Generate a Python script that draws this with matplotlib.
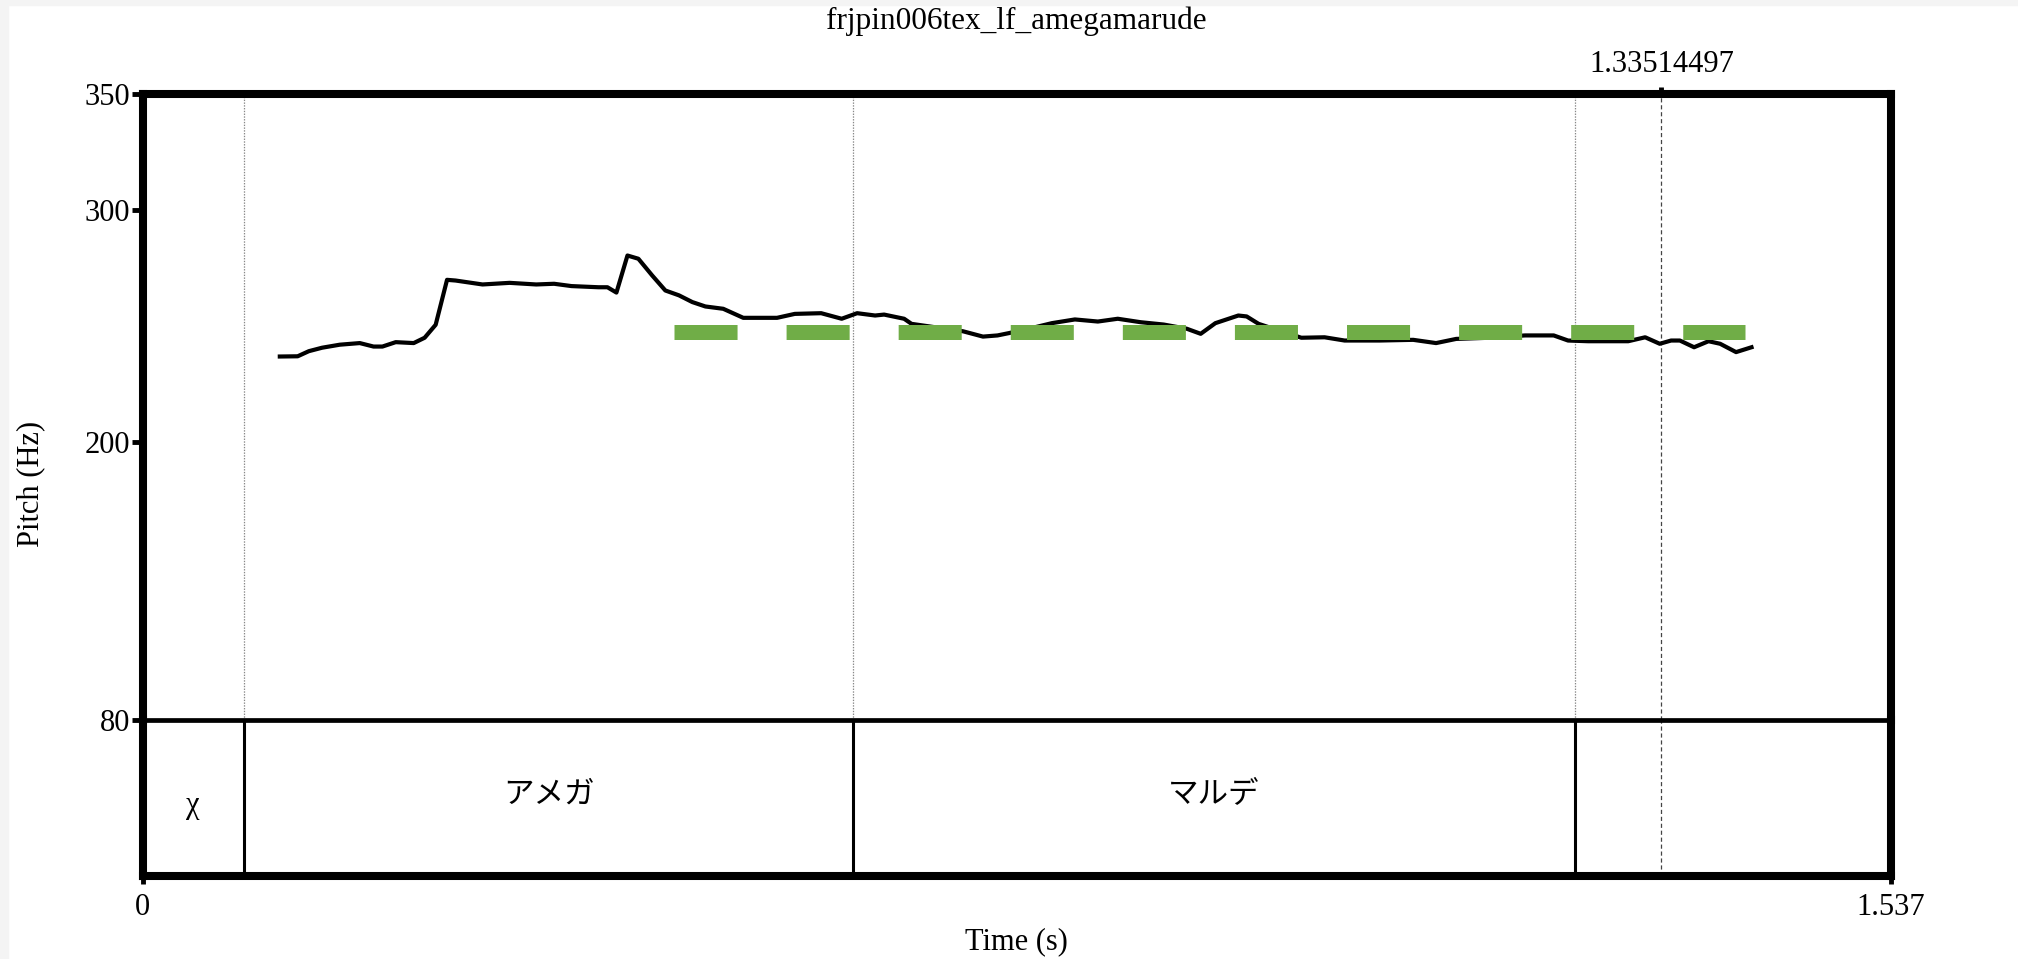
import numpy as np
import matplotlib as mpl
import matplotlib.pyplot as plt
from matplotlib.patches import Rectangle

mpl.rcParams['font.family'] = ['Liberation Serif', 'DejaVu Serif']
mpl.rcParams['lines.scale_dashes'] = False

# 数据
title = 'frjpin006tex_lf_amegamarude'
t_max = 1.537
cursor = 1.33514497
y_ticks = [80, 200, 300, 350]

pitch_t = [0.1207, 0.1364, 0.1462, 0.1579, 0.1734, 0.1910, 0.2031, 0.2109, 0.2226, 0.2384,
           0.2480, 0.2577, 0.2677, 0.2752, 0.2989, 0.3227, 0.3461, 0.3618, 0.3771, 0.4008,
           0.4087, 0.4166, 0.4263, 0.4359, 0.4480, 0.4596, 0.4716, 0.4833, 0.4948, 0.5105,
           0.5281, 0.5578, 0.5734, 0.5966, 0.6146, 0.6282, 0.6440, 0.6519, 0.6695, 0.6760,
           0.7212, 0.7388, 0.7516, 0.7616, 0.7800, 0.7994, 0.8196, 0.8398, 0.8573, 0.8775,
           0.8977, 0.9179, 0.9302, 0.9431, 0.9633, 0.9706, 0.9811, 0.9996, 1.0187, 1.0391,
           1.0567, 1.0873, 1.1170, 1.1371, 1.1548, 1.1839, 1.2153, 1.2405, 1.2531, 1.2708,
           1.3060, 1.3209, 1.3337, 1.3437, 1.3514, 1.3639, 1.3766, 1.3868, 1.4008, 1.4144]
pitch_hz = [236.9, 237.0, 239.2, 240.7, 242.0, 242.7, 241.2, 241.2, 243.1, 242.7,
            245.0, 250.6, 270.0, 269.7, 268.0, 268.7, 268.0, 268.3, 267.3, 266.8,
            266.8, 264.5, 280.5, 279.1, 271.9, 265.4, 263.3, 260.4, 258.5, 257.5,
            253.6, 253.6, 255.3, 255.6, 253.2, 255.6, 254.6, 255.0, 253.2, 251.0,
            247.8, 245.5, 246.0, 247.0, 249.0, 251.3, 252.9, 252.0, 253.2, 251.7,
            250.7, 248.9, 246.7, 251.3, 254.6, 254.2, 251.0, 248.0, 245.0, 245.2,
            243.8, 243.8, 244.1, 242.7, 244.5, 245.0, 246.0, 246.0, 243.8, 243.5,
            243.5, 245.2, 242.4, 243.8, 243.8, 240.9, 243.5, 242.4, 238.8, 240.9]

# 目标线
target_t = [0.467, 1.409]
target_hz = [247.5, 247.5]

# 标注层
boundaries = [0.0892, 0.6246, 1.2592]
labels = ['χ', 'アメガ', 'マルデ', '']
label_t = [0.0446, 0.3569, 0.9419, 1.3981]
label_y = [0.45, 0.52, 0.52, 0.52]

W, H = 2018, 959
fig = plt.figure(figsize=(W / 100, H / 100), dpi=100)
fig.patches.append(Rectangle((0, 1 - 5 / H), 1, 5 / H, transform=fig.transFigure,
                             color='#f4f4f4', zorder=-10))
fig.patches.append(Rectangle((0, 0), 8 / W, 1, transform=fig.transFigure,
                             color='#f4f4f4', zorder=-10))

left, right = 142.5 / W, 1891 / W
ax2 = fig.add_axes([left, 1 - 876 / H, right - left, (876 - 720) / H])
ax = fig.add_axes([left, 1 - 720 / H, right - left, (720 - 94.5) / H])
ax.set_zorder(2)
ax.patch.set_facecolor('none')

frame_lw = 5.8
for a in (ax, ax2):
    for s in a.spines.values():
        s.set_linewidth(frame_lw)
        s.set_capstyle('projecting')
ax.spines['bottom'].set_linewidth(3.4)
ax2.spines['top'].set_visible(False)

# 音高曲线
ax.plot(pitch_t, pitch_hz, color='black', lw=3.0, solid_joinstyle='round', zorder=3)
ax.plot(target_t, target_hz, color='#70ad47', lw=10.8, dashes=(45.4, 35.3),
        dash_capstyle='butt', zorder=4)

for b in boundaries:
    ax.axvline(b, color='#888888', lw=0.9, ls=(0, (1, 1)), zorder=1)
    ax2.axvline(b, color='black', lw=2.2, zorder=2)
ax.axvline(cursor, color='#444444', lw=0.9, ls=(0, (3, 2)), zorder=1)
ax2.axvline(cursor, color='#444444', lw=0.9, ls=(0, (3, 2)), zorder=1)

for lt, ly, lab in zip(label_t, label_y, labels):
    ax2.text(lt, ly, lab, transform=ax2.get_xaxis_transform(), ha='center', va='center',
             fontsize=22, family=['Liberation Serif', 'Noto Sans CJK JP'])

ax.set_xlim(0, t_max)
ax.set_ylim(80, 350)
ax.set_yticks(y_ticks)
ax.set_yticklabels([str(v) for v in y_ticks])
ax.tick_params(axis='y', length=8, width=3.5, labelsize=22, pad=1)
ax.xaxis.set_ticks_position('top')
ax.set_xticks([cursor])
ax.set_xticklabels(['%.8f' % cursor])
ax.tick_params(axis='x', length=5, width=3.5, labelsize=22, pad=6)

ax2.set_xlim(0, t_max)
ax2.set_ylim(0, 1)
ax2.set_yticks([])
ax2.set_xticks([0, t_max])
ax2.set_xticklabels(['0', '1.537'])
ax2.tick_params(axis='x', length=6, width=3.5, labelsize=22, pad=6)

fig.text((142.5 + 1891) / 2 / W, 1 - 21 / H, title, ha='center', va='center', fontsize=22.5)
fig.text(31 / W, 1 - 484 / H, 'Pitch (Hz)', rotation=90, ha='center', va='center', fontsize=22)
fig.text((142.5 + 1891) / 2 / W, 1 - 942 / H, 'Time (s)', ha='center', va='center', fontsize=22)

fig.savefig('out.png', dpi=100)
